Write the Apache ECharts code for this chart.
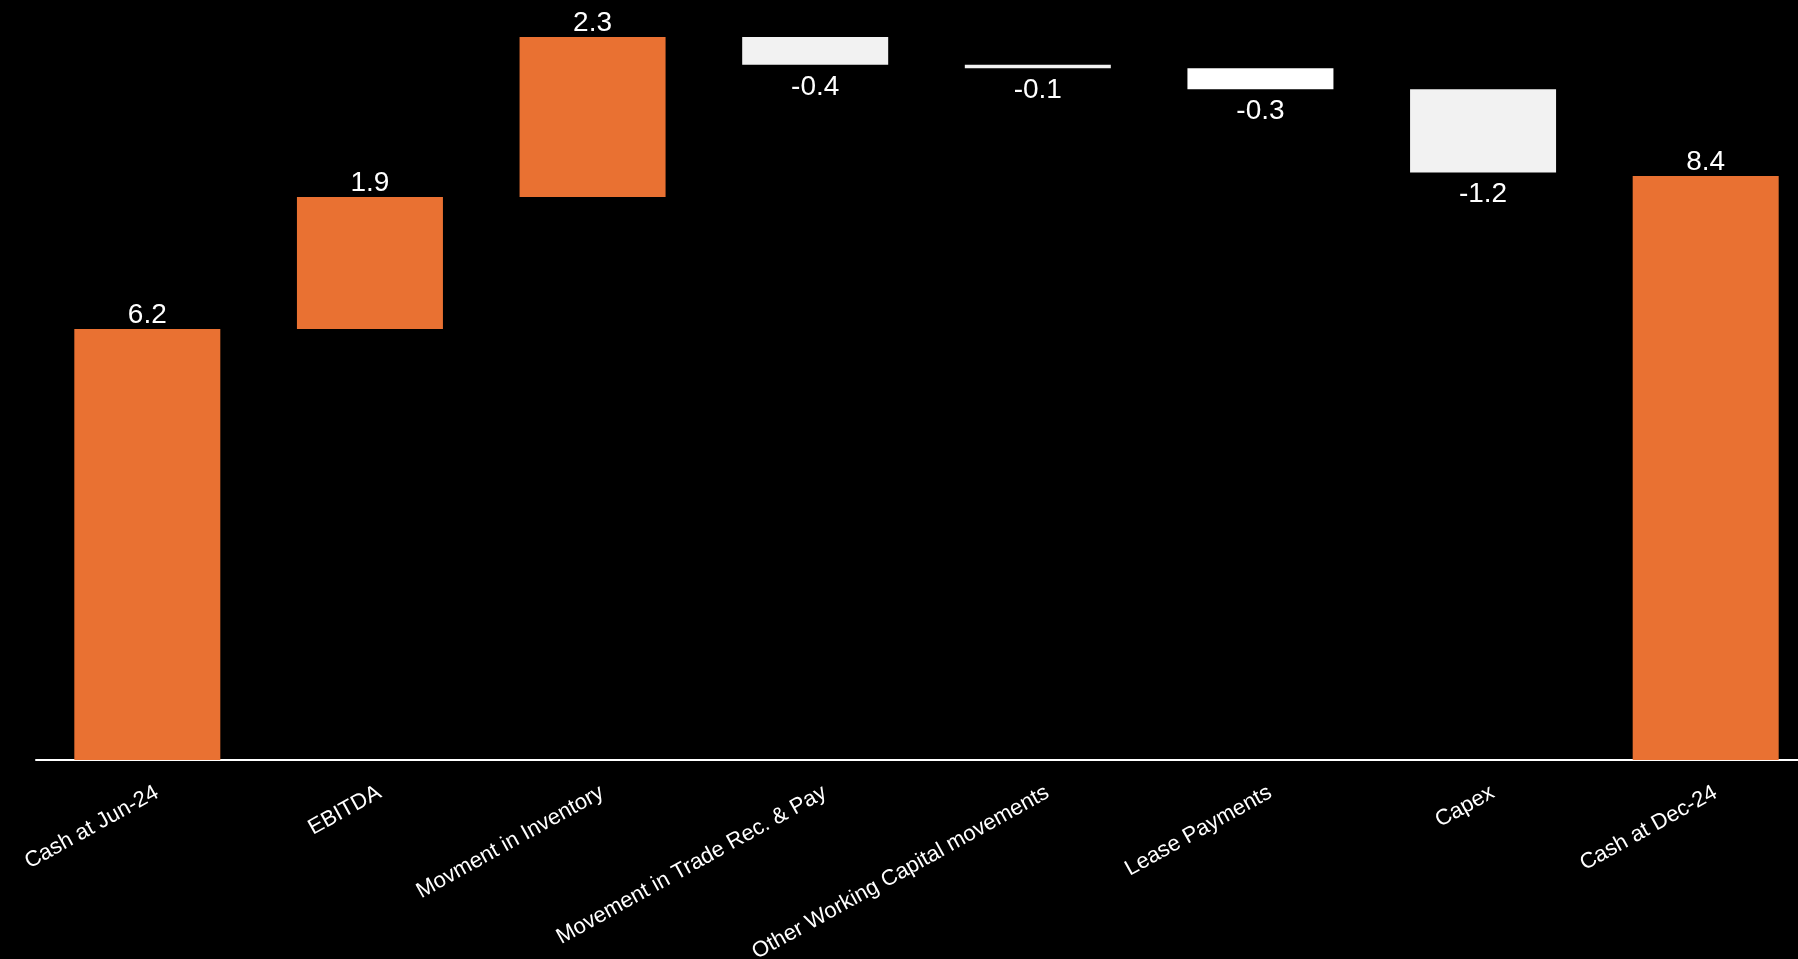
<!DOCTYPE html>
<html>
<head>
<meta charset="utf-8">
<script src="https://cdn.jsdelivr.net/npm/echarts@6/dist/echarts.min.js"></script>
<style>
html,body{margin:0;padding:0;background:#000;}
#chart{width:1798px;height:959px;}
</style>
</head>
<body>
<div id="chart"></div>
<script>
// Data
const categories = ["Cash at Jun-24", "EBITDA", "Movment in Inventory", "Movement in Trade Rec. & Pay", "Other Working Capital movements", "Lease Payments", "Capex", "Cash at Dec-24"];
const values = [6.2, 1.9, 2.3, -0.4, -0.05, -0.3, -1.2, 8.4];
const isTotal = [true, false, false, false, false, false, false, true];

// Build waterfall
const base = [], size = [];
let run = 0;
values.forEach((v, i) => {
  if (isTotal[i]) { base.push(0); size.push(v); run = v; }
  else if (v >= 0) { base.push(run); size.push(v); run += v; }
  else { run += v; base.push(run); size.push(-v); }
});
const ORANGE = '#E97132', GREY = '#F2F2F2';
const visible = values.map((v, i) => ({
  value: size[i],
  itemStyle: { color: (isTotal[i] || v >= 0) ? ORANGE : (i === 5 ? '#FFFFFF' : GREY) },
  label: { position: v >= 0 ? 'top' : 'bottom', distance: v >= 0 ? 0 : 8 }
}));

const chart = echarts.init(document.getElementById('chart'));
chart.setOption({
  backgroundColor: '#000000',
  animation: false,
  grid: { left: 36, top: 37, width: 1781, bottom: 199, containLabel: false, outerBoundsMode: 'none' },
  xAxis: {
    type: 'category',
    data: categories,
    axisLine: { show: true, lineStyle: { color: '#FFFFFF', width: 2 } },
    axisTick: { show: false },
    axisLabel: {
      interval: 0, rotate: 29, margin: 24, hideOverlap: false,
      align: 'right', verticalAlign: 'top', padding: [0, -5, 0, 0],
      color: '#FFFFFF', fontSize: 22, fontFamily: 'Liberation Sans, Arial, sans-serif'
    }
  },
  yAxis: { type: 'value', min: 0, max: 10.4, show: false, splitLine: { show: false } },
  series: [
    { type: 'bar', stack: 'w', data: base, barWidth: 146, itemStyle: { color: 'rgba(0,0,0,0)' }, silent: true },
    {
      type: 'bar', stack: 'w', data: visible, barWidth: 146,
      label: {
        show: true, color: '#FFFFFF', fontSize: 28, fontFamily: 'Liberation Sans, Arial, sans-serif',
        formatter: p => values[p.dataIndex].toFixed(1)
      }
    }
  ]
});
</script>
</body>
</html>
